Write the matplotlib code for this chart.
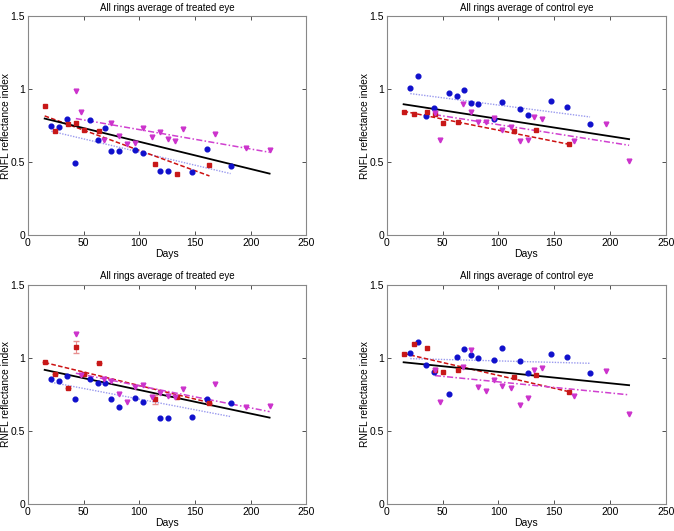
import numpy as np
import matplotlib
matplotlib.use("Agg")
import matplotlib.pyplot as plt

plt.rcParams['font.family'] = ['Liberation Sans', 'DejaVu Sans']

# days of each group (same in every panel)
blue_days = [21, 28, 35, 42, 56, 63, 69, 75, 82, 96, 103, 119, 126, 147, 161, 182]
red_days = [15, 24, 36, 43, 50, 64, 114, 134, 163]
mag_days = [43, 48, 68, 75, 82, 89, 96, 103, 111, 119, 126, 132, 139, 168, 196, 217]

# top left: treated eye
tl_blue = [0.751, 0.742, 0.795, 0.498, 0.792, 0.653, 0.731, 0.578, 0.578, 0.584, 0.566, 0.443, 0.443, 0.434, 0.589, 0.475]
tl_red = [0.884, 0.712, 0.765, 0.772, 0.721, 0.715, 0.489, 0.422, 0.484]
tl_mag = [0.989, 0.845, 0.655, 0.769, 0.680, 0.628, 0.635, 0.735, 0.673, 0.705, 0.660, 0.642, 0.728, 0.692, 0.600, 0.587]

# top right: control eye
tr_blue = [1.005, 1.089, 0.815, 0.874, 0.977, 0.954, 0.993, 0.906, 0.902, 0.799, 0.913, 0.865, 0.822, 0.922, 0.877, 0.763]
tr_red = [0.842, 0.831, 0.845, 0.831, 0.772, 0.776, 0.717, 0.719, 0.626]
tr_mag = [0.840, 0.655, 0.897, 0.842, 0.774, 0.774, 0.801, 0.724, 0.740, 0.642, 0.655, 0.811, 0.795, 0.648, 0.765, 0.507]

# bottom left: treated eye
bl_blue = [0.858, 0.845, 0.874, 0.717, 0.856, 0.826, 0.826, 0.721, 0.667, 0.726, 0.701, 0.589, 0.591, 0.594, 0.721, 0.689]
bl_red = [0.973, 0.890, 0.797, 1.075, 0.893, 0.966, 0.717, 0.731, 0.689]
bl_red_err = [0, 0, 0, 0.04, 0, 0, 0.03, 0, 0]
bl_mag = [1.162, 0.880, 0.854, 0.845, 0.752, 0.701, 0.800, 0.812, 0.731, 0.760, 0.740, 0.735, 0.785, 0.818, 0.667, 0.669]

# bottom right: control eye
br_blue = [1.032, 1.112, 0.952, 0.906, 0.751, 1.009, 1.062, 1.018, 1.000, 0.984, 1.068, 0.979, 0.895, 1.027, 1.009, 0.895]
br_red = [1.025, 1.098, 1.068, 0.918, 0.904, 0.918, 0.868, 0.886, 0.765]
br_mag = [0.920, 0.699, 0.936, 1.057, 0.804, 0.772, 0.847, 0.806, 0.792, 0.678, 0.728, 0.916, 0.932, 0.740, 0.913, 0.616]

# fitted lines: value at first and last day of the fit
all_range = [15, 217]
blue_range = [21, 182]
red_range = [15, 163]
mag_range = [43, 217]
tl_fit = {"all": [0.799, 0.422], "blue": [0.712, 0.422], "red": [0.817, 0.406], "mag": [0.799, 0.568]}
tr_fit = {"all": [0.897, 0.658], "blue": [0.970, 0.810], "red": [0.849, 0.623], "mag": [0.826, 0.616]}
bl_fit = {"all": [0.918, 0.591], "blue": [0.833, 0.598], "red": [0.968, 0.694], "mag": [0.895, 0.632]}
br_fit = {"all": [0.970, 0.813], "blue": [0.995, 0.963], "red": [1.030, 0.769], "mag": [0.879, 0.747]}

titles = ["All rings average of treated eye", "All rings average of control eye",
          "All rings average of treated eye", "All rings average of control eye"]

panels = [
    (tl_blue, tl_red, tl_mag, tl_fit, None),
    (tr_blue, tr_red, tr_mag, tr_fit, None),
    (bl_blue, bl_red, bl_mag, bl_fit, bl_red_err),
    (br_blue, br_red, br_mag, br_fit, None),
]

boxes = [
    [0.0415, 0.557, 0.413, 0.4125],
    [0.574, 0.557, 0.414, 0.4125],
    [0.0415, 0.051, 0.413, 0.4125],
    [0.574, 0.051, 0.414, 0.4125],
]

fig = plt.figure(figsize=(6.74, 5.31), dpi=100)

for i, (blue, red, mag, fit, red_err) in enumerate(panels):
    ax = fig.add_axes(boxes[i])

    ax.plot(all_range, fit["all"], color="black", lw=1.3, zorder=3)
    ax.plot(blue_range, fit["blue"], color="#9a9aee", lw=1.0, ls=(0, (1, 1)), zorder=2)
    ax.plot(red_range, fit["red"], color="#cc1111", lw=1.1, ls=(0, (3, 1.5)), zorder=2)
    ax.plot(mag_range, fit["mag"], color="#d040d0", lw=1.1, ls=(0, (4, 1.5, 1, 1.5)), zorder=2)

    ax.plot(blue_days, blue, "o", color="#1010cc", ms=3.4, mec="#1010cc", zorder=4)
    if red_err is not None:
        ax.errorbar(red_days, red, yerr=red_err, fmt="none", ecolor="#e89090",
                    elinewidth=0.8, capsize=2, zorder=3)
    ax.plot(red_days, red, "s", color="#c81818", ms=3.0, mec="#c81818", zorder=4)
    ax.plot(mag_days, mag, "v", color="#cc33cc", ms=3.4, mec="#cc33cc", zorder=4)

    ax.set_xlim(0, 250)
    ax.set_ylim(0, 1.5)
    ax.set_xticks([0, 50, 100, 150, 200, 250])
    ax.set_yticks([0, 0.5, 1, 1.5])
    ax.set_yticklabels(["0", "0.5", "1", "1.5"])
    ax.tick_params(direction="in", top=True, right=True, length=3, width=0.6,
                   labelsize=7.5, colors="#333333", labelcolor="black", pad=2)
    for s in ax.spines.values():
        s.set_color("#888888")
        s.set_linewidth(0.8)
    ax.set_title(titles[i], fontsize=7.0, pad=4)
    ax.set_xlabel("Days", fontsize=7.5, labelpad=1)
    ax.set_ylabel("RNFL reflectance index", fontsize=7.3, labelpad=0)

fig.savefig("out.png", dpi=100)
